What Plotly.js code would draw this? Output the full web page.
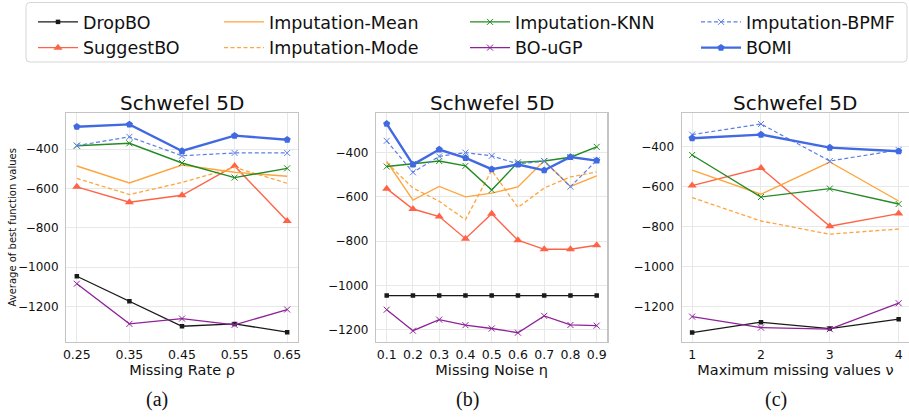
<!DOCTYPE html>
<html>
<head>
<meta charset="utf-8">
<script src="https://cdn.plot.ly/plotly-3.0.1.min.js"></script>
<style>html,body{margin:0;padding:0;overflow:hidden;background:#fff}</style>
</head>
<body>
<div id="chart" style="width:909px;height:417px"></div>
<script>
// ---------- data ----------
const methodNames = ["DropBO","SuggestBO","Imputation-Mean","Imputation-Mode","Imputation-KNN","BO-uGP","Imputation-BPMF","BOMI"];

const rateX    = [0.25, 0.35, 0.45, 0.55, 0.65];
const rateTicks = ["0.25","0.35","0.45","0.55","0.65"];
const noiseX   = [0.1, 0.2, 0.3, 0.4, 0.5, 0.6, 0.7, 0.8, 0.9];
const noiseTicks = ["0.1","0.2","0.3","0.4","0.5","0.6","0.7","0.8","0.9"];
const maxMissX = [1, 2, 3, 4];
const maxMissTicks = ["1","2","3","4"];
const yTickVals = [-400, -600, -800, -1000, -1200];
const yTickText = ["\u2212400","\u2212600","\u2212800","\u22121000","\u22121200"];

// (a) Missing rate
const rateDropBO = [-1046, -1173, -1300, -1288, -1330];
const rateSuggestBO = [-592, -670, -635, -486, -766];
const rateMean = [-486, -572, -481, -518, -538];
const rateMode = [-549, -631, -570, -493, -574];
const rateKNN = [-383, -371, -471, -545, -498];
const rateUGP = [-1084, -1288, -1261, -1293, -1215];
const rateBPMF = [-383, -338, -434, -420, -420];
const rateBOMI = [-287, -275, -410, -332, -353];

// (b) Missing noise
const noiseDropBO = [-1046, -1046, -1046, -1046, -1046, -1046, -1046, -1046, -1046];
const noiseSuggestBO = [-563, -655, -689, -789, -676, -796, -837, -837, -819];
const noiseMean = [-440, -615, -553, -600, -583, -555, -437, -553, -505];
const noiseMode = [-445, -560, -620, -703, -480, -648, -560, -510, -487];
const noiseKNN = [-463, -451, -438, -460, -569, -444, -438, -421, -374];
const noiseUGP = [-1110, -1205, -1155, -1180, -1195, -1214, -1138, -1179, -1182];
const noiseBPMF = [-347, -489, -417, -400, -415, -451, -439, -554, -435];
const noiseBOMI = [-270, -454, -386, -424, -475, -454, -480, -420, -436];

// (c) Maximum missing values
const maxDropBO = [-1330, -1278, -1310, -1263];
const maxSuggestBO = [-595, -507, -798, -735];
const maxMean = [-518, -638, -477, -672];
const maxMode = [-655, -772, -838, -812];
const maxKNN = [-442, -652, -610, -687];
const maxUGP = [-1250, -1305, -1313, -1183];
const maxBPMF = [-340, -287, -472, -417];
const maxBOMI = [-358, -340, -405, -423];

const subplotTitle = "Schwefel 5D";
const xTitles = ["Missing Rate \u03c1", "Missing Noise \u03b7", "Maximum missing values \u03bd"];
const panelLabels = ["(a)", "(b)", "(c)"];
const yTitle = "Average of best function values";

// ---------- styles ----------
const W = 909, H = 417;
const styles = {
  "DropBO":          {color:"#1a1a1a", width:1.3, dash:"solid", symbol:"square", size:4.5, legend:"legend"},
  "SuggestBO":       {color:"#ff6347", width:1.4, dash:"solid", symbol:"triangle-up", size:8, legend:"legend"},
  "Imputation-Mean": {color:"#ffa53d", width:1.4, dash:"solid", symbol:null, size:0, legend:"legend2"},
  "Imputation-Mode": {color:"#ffa53d", width:1.3, dash:"4px,2.5px", symbol:null, size:0, legend:"legend2"},
  "Imputation-KNN":  {color:"#238b23", width:1.4, dash:"solid", symbol:"x-thin", size:6, legend:"legend3"},
  "BO-uGP":          {color:"#8e2399", width:1.3, dash:"solid", symbol:"x-thin", size:6, legend:"legend3"},
  "Imputation-BPMF": {color:"#5b7fe6", width:1.2, dash:"4px,2.5px", symbol:"x-thin", size:6, legend:"legend4"},
  "BOMI":            {color:"#4169e1", width:2.4, dash:"solid", symbol:"pentagon", size:7.5, legend:"legend4"}
};

const panels = [
  {x: rateX, axis:"", series:[rateDropBO, rateSuggestBO, rateMean, rateMode, rateKNN, rateUGP, rateBPMF, rateBOMI]},
  {x: noiseX, axis:"2", series:[noiseDropBO, noiseSuggestBO, noiseMean, noiseMode, noiseKNN, noiseUGP, noiseBPMF, noiseBOMI]},
  {x: maxMissX, axis:"3", series:[maxDropBO, maxSuggestBO, maxMean, maxMode, maxKNN, maxUGP, maxBPMF, maxBOMI]}
];

const traces = [];
panels.forEach((p, pi) => {
  methodNames.forEach((name, mi) => {
    const s = styles[name];
    const t = {
      type: "scatter",
      x: p.x,
      y: p.series[mi],
      name: name,
      xaxis: "x" + p.axis,
      yaxis: "y" + p.axis,
      mode: s.symbol ? "lines+markers" : "lines",
      line: {color: s.color, width: s.width, dash: s.dash},
      legend: s.legend,
      showlegend: pi === 0,
      hoverinfo: "x+y+name"
    };
    if (s.symbol) {
      t.marker = {symbol: s.symbol, size: s.size, color: s.color,
                  line: {color: s.color, width: s.symbol === "x-thin" ? 1 : 0}};
    }
    traces.push(t);
  });
});

// ---------- layout ----------
const px2x = v => v / W;
const px2y = v => 1 - v / H;
const yDom = [px2y(342), px2y(113)];
const font = "DejaVu Sans, Verdana, sans-serif";

function xaxisDef(dom, range, vals, text, title) {
  return {
    domain: dom, range: range, tickmode: "array", tickvals: vals, ticktext: text,
    showgrid: true, gridcolor: "#e8e8e8", gridwidth: 1, zeroline: false,
    showline: true, mirror: true, linecolor: "#c4c4c4", linewidth: 1.3,
    ticks: "", ticklabelstandoff: 1,
    tickfont: {family: font, size: 12.5, color: "#111"},
    title: {text: title, font: {family: font, size: 14.5, color: "#111"}, standoff: 0},
    fixedrange: true
  };
}
function yaxisDef(anchor, range) {
  return {
    domain: yDom, range: range, anchor: anchor, tickmode: "array",
    tickvals: yTickVals, ticktext: yTickText,
    showgrid: true, gridcolor: "#e8e8e8", gridwidth: 1, zeroline: false,
    showline: true, mirror: true, linecolor: "#c4c4c4", linewidth: 1.3,
    ticks: "", ticklabelstandoff: 4,
    tickfont: {family: font, size: 12, color: "#111"},
    fixedrange: true
  };
}

function legendDef(leftPx) {
  return {
    x: px2x(leftPx), y: px2y(4), xanchor: "left", yanchor: "top",
    orientation: "v", itemwidth: 40, borderwidth: 0, bgcolor: "rgba(0,0,0,0)",
    font: {family: font, size: 17.5, color: "#111"}, tracegroupgap: 0,
    traceorder: "normal"
  };
}

// rounded legend frame
function roundRectPath(x0, y0, x1, y1, r) {
  const X = v => px2x(v).toFixed(5), Y = v => px2y(v).toFixed(5);
  return "M" + X(x0 + r) + "," + Y(y0) +
    " L" + X(x1 - r) + "," + Y(y0) + " Q" + X(x1) + "," + Y(y0) + " " + X(x1) + "," + Y(y0 + r) +
    " L" + X(x1) + "," + Y(y1 - r) + " Q" + X(x1) + "," + Y(y1) + " " + X(x1 - r) + "," + Y(y1) +
    " L" + X(x0 + r) + "," + Y(y1) + " Q" + X(x0) + "," + Y(y1) + " " + X(x0) + "," + Y(y1 - r) +
    " L" + X(x0) + "," + Y(y0 + r) + " Q" + X(x0) + "," + Y(y0) + " " + X(x0 + r) + "," + Y(y0) + " Z";
}

const xDomA = [px2x(66.3), px2x(297.7)];
const xDomB = [px2x(376.2), px2x(607.2)];
const xDomC = [px2x(681.8), 1];

const annotations = [];
[xDomA, xDomB, xDomC].forEach((d, i) => {
  annotations.push({
    text: subplotTitle, xref: "paper", yref: "paper", x: (d[0] + d[1]) / 2, y: px2y(103),
    xanchor: "center", yanchor: "middle", showarrow: false,
    font: {family: font, size: 20, color: "#111"}
  });
});
const labelCenters = [157, 467, 776];
panelLabels.forEach((t, i) => {
  annotations.push({
    text: t, xref: "paper", yref: "paper", x: px2x(labelCenters[i]), y: px2y(399),
    xanchor: "center", yanchor: "middle", showarrow: false,
    font: {family: "Liberation Serif, DejaVu Serif, serif", size: 20, color: "#111"}
  });
});
// y-axis title of panel (a)
annotations.push({
  text: yTitle, xref: "paper", yref: "paper", x: px2x(12), y: (yDom[0] + yDom[1]) / 2,
  xanchor: "center", yanchor: "middle", showarrow: false, textangle: -90,
  font: {family: font, size: 10, color: "#111"}
});

const layout = {
  width: W, height: H,
  margin: {l: 0, r: 0, t: 0, b: 0},
  paper_bgcolor: "#fff", plot_bgcolor: "#fff",
  font: {family: font, color: "#111"},
  xaxis:  xaxisDef(xDomA, [0.23, 0.67], rateX, rateTicks, xTitles[0]),
  yaxis:  yaxisDef("x", [-1380, -217]),
  xaxis2: xaxisDef(xDomB, [0.06, 0.94], noiseX, noiseTicks, xTitles[1]),
  yaxis2: yaxisDef("x2", [-1256, -221]),
  xaxis3: xaxisDef(xDomC, [0.85, 4.15], maxMissX, maxMissTicks, xTitles[2]),
  yaxis3: yaxisDef("x3", [-1377, -232]),
  legend:  legendDef(33),
  legend2: legendDef(219),
  legend3: legendDef(465),
  legend4: legendDef(696),
  shapes: [{
    type: "path", xref: "paper", yref: "paper",
    path: roundRectPath(26, 2.5, 907, 62, 4),
    line: {color: "#d6d6d6", width: 1}, fillcolor: "rgba(0,0,0,0)", layer: "below"
  }],
  annotations: annotations,
  showlegend: true
};

layout.xaxis.anchor = "y";
layout.xaxis2.anchor = "y2";
layout.xaxis3.anchor = "y3";

Plotly.newPlot("chart", traces, layout, {displayModeBar: false, staticPlot: true});
</script>
</body>
</html>
